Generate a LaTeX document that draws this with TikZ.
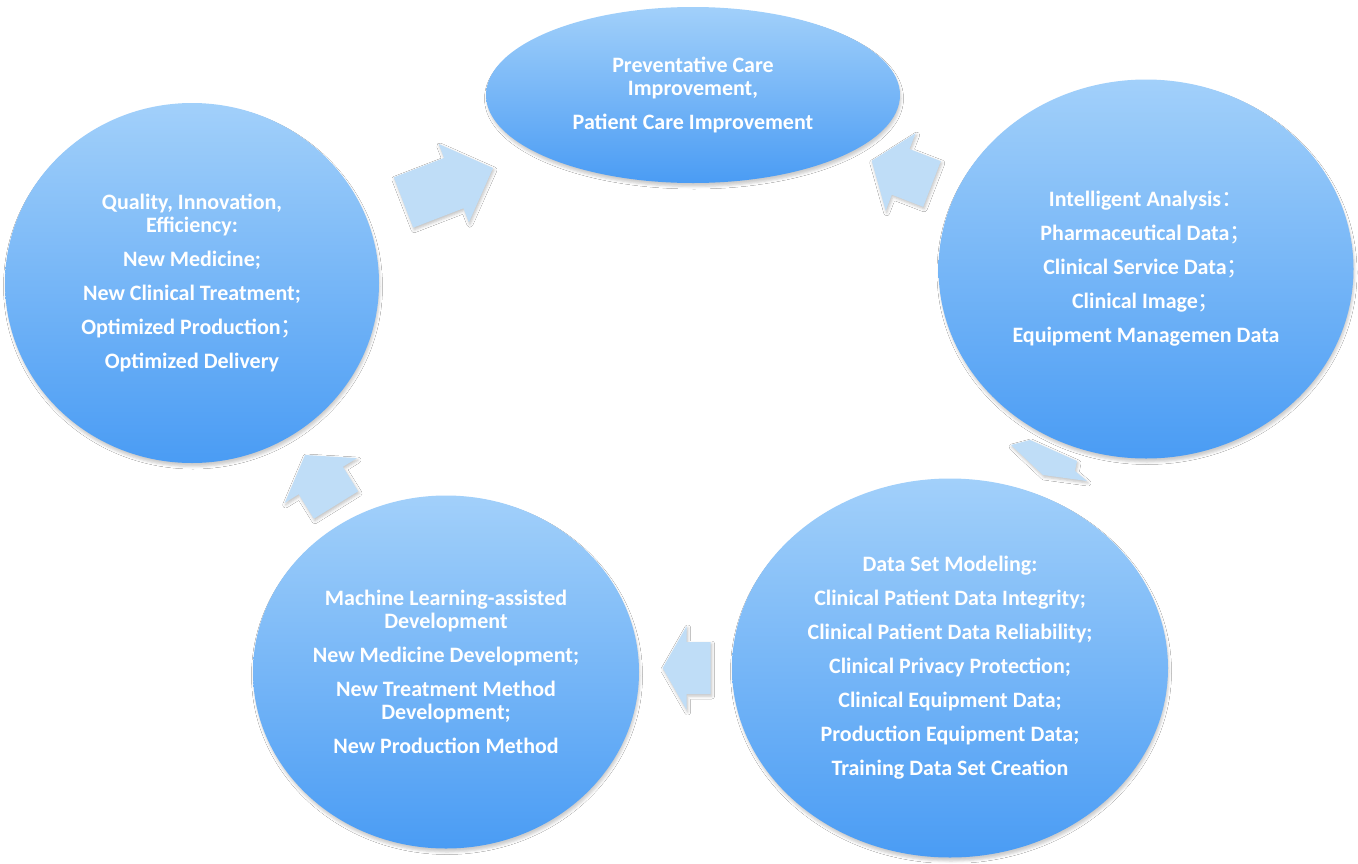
\documentclass[tikz,border=0pt]{standalone}
\usepackage{fontspec}
\setmainfont{Carlito}
\newfontfamily\cjk{Noto Sans CJK SC}
\usetikzlibrary{shapes.geometric,shadows.blur}
\definecolor{ctop}{HTML}{A2D0FA}
\definecolor{cbot}{HTML}{4A9CF4}
\definecolor{afill}{HTML}{BFDDF7}
\newcommand\fw[1]{{\cjk\mdseries #1}}
\tikzset{
  bubble/.style={ellipse, inner sep=0pt, draw=none,
    top color=ctop, bottom color=cbot, text=white, align=center,
    font=\fontsize{22}{23}\selectfont\bfseries,
    blur shadow={shadow xshift=1pt, shadow yshift=-3.5pt,
      shadow blur radius=2.5pt, shadow opacity=20}},
  arrowfill/.style={fill=afill,
    blur shadow={shadow xshift=1pt, shadow yshift=-2pt,
      shadow blur radius=3pt, shadow opacity=25}},
  pics/blockarrow/.style args={#1/#2/#3/#4}{code={
    \path[arrowfill] (0,#2/2) -- (#1-#4,#2/2) -- (#1-#4,#3/2) -- (#1,0)
      -- (#1-#4,-#3/2) -- (#1-#4,-#2/2) -- (0,-#2/2) -- cycle;}}
}
\begin{document}
\begin{tikzpicture}[x=1pt,y=-1pt]
\useasboundingbox[fill=white] (0,0) rectangle (1358,863);

\node[bubble, minimum width=414pt, minimum height=176pt] (care) at (693,95)
  {Preventative Care\\Improvement,\\[11pt]Patient Care Improvement};

\node[bubble, minimum width=374pt, minimum height=360pt] (quality) at (192,283)
  {Quality, Innovation,\\Efficiency:\\[11pt]New Medicine;\\[11pt]New Clinical Treatment;\\[11pt]Optimized Production\fw{；}\\[11pt]Optimized Delivery};

\node[bubble, minimum width=415pt, minimum height=379pt] (analysis) at (1146,269)
  {Intelligent Analysis\fw{：}\\[11pt]Pharmaceutical Data\fw{；}\\[11pt]Clinical Service Data\fw{；}\\[11pt]Clinical Image\fw{；}\\[11pt]Equipment Managemen Data};

\node[bubble, minimum width=436pt, minimum height=379pt] (dataset) at (950,668)
  {Data Set Modeling:\\[11pt]Clinical Patient Data Integrity;\\[11pt]Clinical Patient Data Reliability;\\[11pt]Clinical Privacy Protection;\\[11pt]Clinical Equipment Data;\\[11pt]Production Equipment Data;\\[11pt]Training Data Set Creation};

\node[bubble, minimum width=386pt, minimum height=353pt] (ml) at (446,672)
  {Machine Learning-assisted\\Development\\[11pt]New Medicine Development;\\[11pt]New Treatment Method\\Development;\\[11pt]New Production Method};

% block arrows
\pic (aq) [rotate=21.08] at (403.5,202.5) {blockarrow=95.9/54/84/42};
\pic (aa) [rotate=158.9] at (932,184) {blockarrow=64.6/49/83/31};
\pic (ad) [rotate=180] at (710.7,668) {blockarrow=48/52/84/24};
\pic (am) [rotate=121.8] at (336,505) {blockarrow=58.8/52/85/30};
\path[arrowfill] (1011,445) -- (1030,440) -- (1077,461) -- (1075,471)
  -- (1087,481) -- (1043,475) -- cycle;
\end{tikzpicture}
\end{document}
